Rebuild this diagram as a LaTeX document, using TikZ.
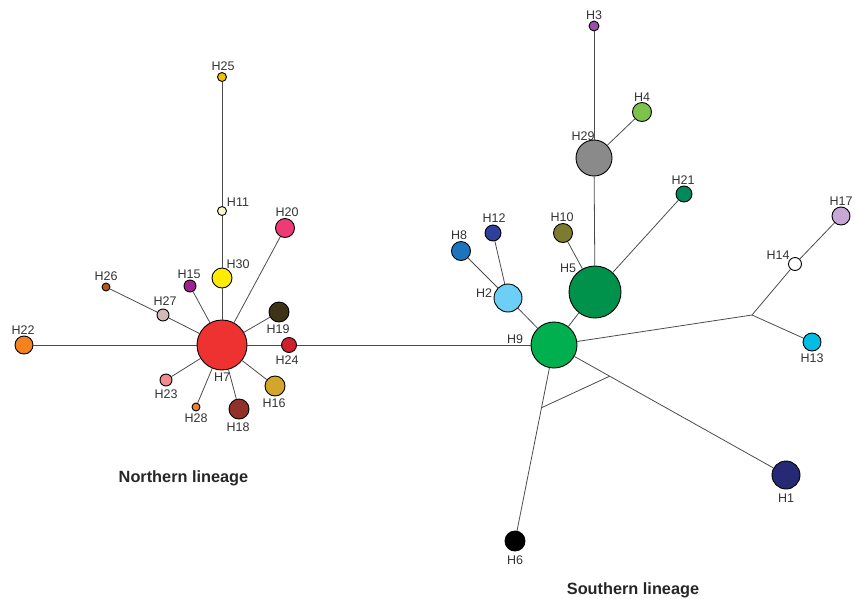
\documentclass[tikz,border=0pt]{standalone}
\usepackage{fontspec}
\setmainfont{Liberation Sans}
\usetikzlibrary{calc}
\begin{document}
\begin{tikzpicture}[x=1pt,y=-1pt,
  hap/.style={circle,draw=black,line width=0.9pt,inner sep=0pt,minimum size=#1},
  lbl/.style={font=\fontsize{12.5}{12.5}\selectfont,text=black!80},
  edge/.style={draw=black!70,line width=0.8pt},
  title/.style={font=\fontsize{16.3}{16.3}\selectfont\bfseries,text=black!85}]
\useasboundingbox (0,0) rectangle (855,598);
% colours
\definecolor{cH7}{RGB}{238,50,50}
\definecolor{cH22}{RGB}{245,130,32}
\definecolor{cH26}{RGB}{181,84,30}
\definecolor{cH27}{RGB}{211,184,184}
\definecolor{cH15}{RGB}{160,32,142}
\definecolor{cH30}{RGB}{255,235,0}
\definecolor{cH11}{RGB}{255,251,200}
\definecolor{cH25}{RGB}{242,194,0}
\definecolor{cH20}{RGB}{238,58,117}
\definecolor{cH19}{RGB}{61,52,23}
\definecolor{cH24}{RGB}{208,32,45}
\definecolor{cH16}{RGB}{212,165,43}
\definecolor{cH18}{RGB}{146,48,42}
\definecolor{cH28}{RGB}{240,127,52}
\definecolor{cH23}{RGB}{240,140,144}
\definecolor{cH9}{RGB}{0,176,79}
\definecolor{cH5}{RGB}{0,146,74}
\definecolor{cH2}{RGB}{109,207,246}
\definecolor{cH8}{RGB}{28,117,188}
\definecolor{cH12}{RGB}{46,63,158}
\definecolor{cH10}{RGB}{125,124,46}
\definecolor{cH29}{RGB}{138,138,138}
\definecolor{cH3}{RGB}{155,79,168}
\definecolor{cH4}{RGB}{125,194,74}
\definecolor{cH21}{RGB}{0,137,90}
\definecolor{cH17}{RGB}{199,167,214}
\definecolor{cH13}{RGB}{0,189,227}
\definecolor{cH1}{RGB}{38,42,116}
% northern nodes
\node[hap=50pt,fill=cH7] (H7) at (222,345) {};
\node[hap=18pt,fill=cH22] (H22) at (24,345) {};
\node[hap=8pt,fill=cH26] (H26) at (106,287) {};
\node[hap=12pt,fill=cH27] (H27) at (163,315) {};
\node[hap=12pt,fill=cH15] (H15) at (190,286) {};
\node[hap=20pt,fill=cH30] (H30) at (222,278) {};
\node[hap=9pt,fill=cH11] (H11) at (222,211) {};
\node[hap=9pt,fill=cH25] (H25) at (222,77) {};
\node[hap=19pt,fill=cH20] (H20) at (285,228) {};
\node[hap=20pt,fill=cH19] (H19) at (279,312) {};
\node[hap=15pt,fill=cH24] (H24) at (289,345) {};
\node[hap=20pt,fill=cH16] (H16) at (275,386) {};
\node[hap=20pt,fill=cH18] (H18) at (239,409) {};
\node[hap=8pt,fill=cH28] (H28) at (196,407) {};
\node[hap=12pt,fill=cH23] (H23) at (166,380) {};
% southern nodes
\node[hap=46pt,fill=cH9] (H9) at (554,345) {};
\node[hap=52pt,fill=cH5] (H5) at (595,292) {};
\node[hap=28pt,fill=cH2] (H2) at (508,298) {};
\node[hap=19pt,fill=cH8] (H8) at (461,251) {};
\node[hap=16pt,fill=cH12] (H12) at (493,233) {};
\node[hap=19pt,fill=cH10] (H10) at (563,233) {};
\node[hap=36pt,fill=cH29] (H29) at (594,158) {};
\node[hap=10pt,fill=cH3] (H3) at (594,26) {};
\node[hap=19pt,fill=cH4] (H4) at (642,112) {};
\node[hap=16pt,fill=cH21] (H21) at (684,194) {};
\node[hap=18pt,fill=cH17] (H17) at (841,216) {};
\node[hap=13pt,fill=white] (H14) at (795,264) {};
\node[hap=18pt,fill=cH13] (H13) at (812,342) {};
\node[hap=28pt,fill=cH1] (H1) at (786,475) {};
\node[hap=20pt,fill=black] (H6) at (515,541) {};
\coordinate (J) at (752,315);
% edges
\draw[edge] (H7) -- (H22);
\draw[edge] (H7) -- (H27);
\draw[edge] (H27) -- (H26);
\draw[edge] (H7) -- (H15);
\draw[edge] (H7) -- (H30);
\draw[edge] (H30) -- (H11);
\draw[edge] (H11) -- (H25);
\draw[edge] (H7) -- (H20);
\draw[edge] (H7) -- (H19);
\draw[edge] (H7) -- (H24);
\draw[edge] (H24) -- (H9);
\draw[edge] (H7) -- (H16);
\draw[edge] (H7) -- (H18);
\draw[edge] (H7) -- (H28);
\draw[edge] (H7) -- (H23);
\draw[edge] (H9) -- (H2);
\draw[edge] (H2) -- (H8);
\draw[edge] (H2) -- (H12);
\draw[edge] (H9) -- (H5);
\draw[edge] (H5) -- (H10);
\draw[edge] (H5) -- (H29);
\draw[edge] (H29) -- (H3);
\draw[edge] (H29) -- (H4);
\draw[edge] (H5) -- (H21);
\draw[edge] (H9) -- (J);
\draw[edge] (J) -- (H14);
\draw[edge] (H14) -- (H17);
\draw[edge] (J) -- (H13);
\draw[edge] (H9) -- (H1);
\draw[edge] (H9) -- (H6);
\coordinate (X1) at ($(H9)!0.32!(H6)$);
\coordinate (X2) at ($(H9)!0.24!(H1)$);
\draw[edge] (X1) -- (X2);
% labels
\node[lbl] (lH7) at (222,377) {H7};
\node[lbl] (lH22) at (23,330) {H22};
\node[lbl] (lH26) at (106,276) {H26};
\node[lbl] (lH27) at (165,301) {H27};
\node[lbl] (lH15) at (189,274) {H15};
\node[lbl] (lH30) at (238,264) {H30};
\node[lbl] (lH11) at (238,202) {H11};
\node[lbl] (lH25) at (223,66) {H25};
\node[lbl] (lH20) at (287,212) {H20};
\node[lbl] (lH19) at (278,329) {H19};
\node[lbl] (lH24) at (287,360) {H24};
\node[lbl] (lH16) at (274,403) {H16};
\node[lbl] (lH18) at (238,427) {H18};
\node[lbl] (lH28) at (196,418) {H28};
\node[lbl] (lH23) at (166,394) {H23};
\node[lbl] (lH9) at (515,339) {H9};
\node[lbl] (lH5) at (568,268) {H5};
\node[lbl] (lH2) at (484,293) {H2};
\node[lbl] (lH8) at (459,235) {H8};
\node[lbl] (lH12) at (494,218) {H12};
\node[lbl] (lH10) at (562,217) {H10};
\node[lbl] (lH29) at (583,136) {H29};
\node[lbl] (lH3) at (594,15) {H3};
\node[lbl] (lH4) at (642,97) {H4};
\node[lbl] (lH21) at (683,180) {H21};
\node[lbl] (lH17) at (841,201) {H17};
\node[lbl] (lH14) at (778,255) {H14};
\node[lbl] (lH13) at (812,358) {H13};
\node[lbl] (lH1) at (786,498) {H1};
\node[lbl] (lH6) at (515,560) {H6};
\node[title] (tN) at (183.5,478) {Northern lineage};
\node[title] (tS) at (633,590) {Southern lineage};
\end{tikzpicture}
\end{document}
